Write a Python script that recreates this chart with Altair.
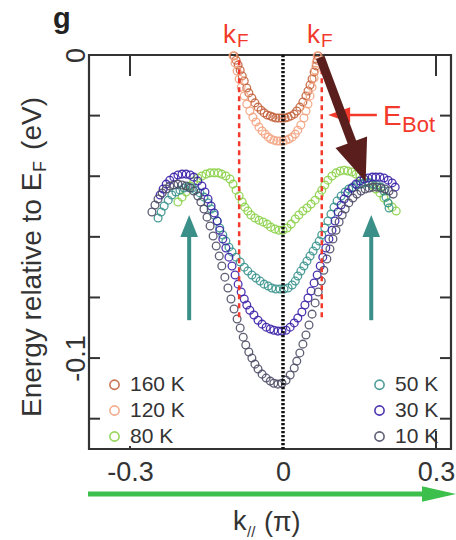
import altair as alt
import pandas as pd

FONT = "Liberation Sans"
DARK = "#333333"
RED = "#f2392b"
TEAL_ARROW = "#3a8f88"
BROWN = "#5a1f1c"
GREEN_ARROW = "#3dbf4b"

# ---------------- data (k in units of pi, E in eV) ----------------
K160 = [-0.096, -0.092, -0.088, -0.084, -0.080, -0.076, -0.071, -0.067, -0.061, -0.055,
        -0.049, -0.043, -0.037, -0.031, -0.025, -0.020, -0.014, -0.008, -0.002, 0.004,
        0.010, 0.016, 0.022, 0.027, 0.033, 0.039, 0.045, 0.049, 0.053, 0.057,
        0.061, 0.065, 0.067, 0.069]
E160 = [-0.0003, -0.0017, -0.0033, -0.0050, -0.0069, -0.0086, -0.0109, -0.0125, -0.0142, -0.0158,
        -0.0172, -0.0182, -0.0191, -0.0198, -0.0201, -0.0205, -0.0208, -0.0208, -0.0208, -0.0208,
        -0.0205, -0.0201, -0.0195, -0.0185, -0.0172, -0.0155, -0.0135, -0.0119, -0.0099, -0.0079,
        -0.0056, -0.0036, -0.0017, -0.0003]

K120 = [-0.098, -0.094, -0.090, -0.086, -0.082, -0.076, -0.071, -0.065, -0.059, -0.053,
        -0.047, -0.041, -0.035, -0.029, -0.024, -0.018, -0.012, -0.006, 0.000, 0.006,
        0.012, 0.018, 0.024, 0.029, 0.035, 0.041, 0.045, 0.049, 0.053, 0.057,
        0.061, 0.063, 0.065, 0.067]
E120 = [-0.0003, -0.0026, -0.0053, -0.0079, -0.0106, -0.0135, -0.0162, -0.0185, -0.0205, -0.0221,
        -0.0238, -0.0251, -0.0261, -0.0271, -0.0277, -0.0281, -0.0284, -0.0284, -0.0284, -0.0281,
        -0.0277, -0.0271, -0.0261, -0.0248, -0.0231, -0.0208, -0.0185, -0.0162, -0.0135, -0.0106,
        -0.0076, -0.0050, -0.0026, -0.0003]

K80 = [-0.206, -0.198, -0.190, -0.182, -0.175, -0.167, -0.159, -0.151, -0.143, -0.135,
       -0.127, -0.120, -0.112, -0.104, -0.098, -0.092, -0.086, -0.080, -0.075, -0.069,
       -0.063, -0.055, -0.047, -0.039, -0.031, -0.024, -0.016, -0.008, 0.000, 0.008,
       0.016, 0.024, 0.031, 0.039, 0.047, 0.055, 0.063, 0.071, 0.076, 0.082,
       0.088, 0.096, 0.104, 0.112, 0.120, 0.127, 0.135, 0.143, 0.151, 0.159,
       0.167, 0.175, 0.182, 0.190, 0.198, 0.206, 0.214, 0.222]
E80 = [-0.0485, -0.0469, -0.0452, -0.0432, -0.0416, -0.0406, -0.0399, -0.0393, -0.0389, -0.0389,
       -0.0389, -0.0393, -0.0399, -0.0409, -0.0426, -0.0446, -0.0465, -0.0485, -0.0502, -0.0515,
       -0.0528, -0.0538, -0.0545, -0.0551, -0.0558, -0.0568, -0.0574, -0.0578, -0.0578, -0.0571,
       -0.0558, -0.0541, -0.0528, -0.0515, -0.0505, -0.0492, -0.0479, -0.0462, -0.0446, -0.0429,
       -0.0413, -0.0399, -0.0389, -0.0383, -0.0380, -0.0383, -0.0386, -0.0393, -0.0399, -0.0409,
       -0.0419, -0.0429, -0.0442, -0.0455, -0.0472, -0.0488, -0.0502, -0.0515]

K50 = [-0.245, -0.239, -0.233, -0.225, -0.218, -0.210, -0.202, -0.194, -0.186, -0.178,
       -0.171, -0.163, -0.155, -0.147, -0.141, -0.135, -0.129, -0.124, -0.118, -0.112,
       -0.106, -0.100, -0.092, -0.084, -0.076, -0.069, -0.061, -0.053, -0.045, -0.037,
       -0.029, -0.022, -0.014, -0.006, 0.002, 0.010, 0.018, 0.024, 0.029, 0.035,
       0.041, 0.047, 0.053, 0.059, 0.065, 0.071, 0.076, 0.082, 0.088, 0.094,
       0.100, 0.106, 0.114, 0.122, 0.129, 0.137, 0.145, 0.153, 0.161, 0.169,
       0.176, 0.184, 0.192, 0.198, 0.202, 0.206, 0.208]
E50 = [-0.0538, -0.0518, -0.0498, -0.0479, -0.0462, -0.0452, -0.0446, -0.0439, -0.0436, -0.0439,
       -0.0446, -0.0455, -0.0469, -0.0488, -0.0508, -0.0528, -0.0548, -0.0571, -0.0594, -0.0614,
       -0.0634, -0.0650, -0.0667, -0.0683, -0.0700, -0.0713, -0.0726, -0.0736, -0.0746, -0.0756,
       -0.0762, -0.0769, -0.0772, -0.0772, -0.0772, -0.0769, -0.0759, -0.0746, -0.0729, -0.0713,
       -0.0696, -0.0680, -0.0663, -0.0647, -0.0630, -0.0614, -0.0594, -0.0571, -0.0548, -0.0525,
       -0.0502, -0.0482, -0.0465, -0.0452, -0.0442, -0.0436, -0.0429, -0.0426, -0.0422, -0.0422,
       -0.0426, -0.0429, -0.0436, -0.0449, -0.0469, -0.0488, -0.0505]

K30 = [-0.241, -0.235, -0.229, -0.222, -0.214, -0.206, -0.198, -0.190, -0.182, -0.175,
       -0.167, -0.159, -0.153, -0.147, -0.141, -0.135, -0.129, -0.124, -0.118, -0.112,
       -0.106, -0.100, -0.094, -0.088, -0.082, -0.076, -0.071, -0.065, -0.057, -0.049,
       -0.041, -0.033, -0.025, -0.018, -0.010, -0.002, 0.006, 0.014, 0.022, 0.029,
       0.037, 0.043, 0.049, 0.055, 0.061, 0.067, 0.073, 0.078, 0.084, 0.090,
       0.096, 0.102, 0.108, 0.114, 0.120, 0.127, 0.135, 0.143, 0.151, 0.159,
       0.167, 0.175, 0.182, 0.190, 0.198, 0.206, 0.214, 0.220]
E30 = [-0.0462, -0.0442, -0.0426, -0.0413, -0.0403, -0.0396, -0.0393, -0.0393, -0.0396, -0.0403,
       -0.0416, -0.0432, -0.0452, -0.0475, -0.0498, -0.0521, -0.0548, -0.0578, -0.0607, -0.0637,
       -0.0667, -0.0696, -0.0726, -0.0756, -0.0782, -0.0805, -0.0825, -0.0842, -0.0858, -0.0875,
       -0.0888, -0.0898, -0.0904, -0.0908, -0.0911, -0.0911, -0.0908, -0.0898, -0.0884, -0.0868,
       -0.0848, -0.0825, -0.0802, -0.0779, -0.0752, -0.0726, -0.0696, -0.0667, -0.0637, -0.0607,
       -0.0578, -0.0548, -0.0518, -0.0495, -0.0475, -0.0455, -0.0439, -0.0426, -0.0416, -0.0409,
       -0.0406, -0.0403, -0.0403, -0.0403, -0.0406, -0.0413, -0.0422, -0.0436]

K10 = [-0.257, -0.251, -0.245, -0.237, -0.229, -0.222, -0.214, -0.206, -0.198, -0.190,
       -0.182, -0.175, -0.167, -0.161, -0.155, -0.149, -0.143, -0.137, -0.131, -0.125,
       -0.120, -0.114, -0.108, -0.102, -0.096, -0.090, -0.084, -0.078, -0.073, -0.067,
       -0.061, -0.055, -0.049, -0.041, -0.033, -0.025, -0.018, -0.010, -0.002, 0.006,
       0.014, 0.022, 0.027, 0.033, 0.039, 0.045, 0.051, 0.057, 0.063, 0.069,
       0.075, 0.080, 0.086, 0.092, 0.098, 0.104, 0.110, 0.116, 0.122, 0.129,
       0.137, 0.145, 0.153, 0.161, 0.169, 0.176, 0.184, 0.192, 0.200, 0.208,
       0.216]
E10 = [-0.0518, -0.0495, -0.0475, -0.0455, -0.0442, -0.0432, -0.0429, -0.0426, -0.0429, -0.0432,
       -0.0439, -0.0449, -0.0465, -0.0485, -0.0508, -0.0535, -0.0564, -0.0597, -0.0630, -0.0663,
       -0.0696, -0.0733, -0.0769, -0.0805, -0.0838, -0.0871, -0.0901, -0.0931, -0.0957, -0.0980,
       -0.1000, -0.1020, -0.1036, -0.1053, -0.1066, -0.1076, -0.1083, -0.1086, -0.1083, -0.1073,
       -0.1056, -0.1033, -0.1010, -0.0983, -0.0954, -0.0924, -0.0891, -0.0855, -0.0818, -0.0782,
       -0.0746, -0.0710, -0.0673, -0.0640, -0.0607, -0.0578, -0.0551, -0.0528, -0.0508, -0.0488,
       -0.0472, -0.0459, -0.0449, -0.0442, -0.0439, -0.0436, -0.0436, -0.0439, -0.0442, -0.0449,
       -0.0459]

SERIES = ["160 K", "120 K", "80 K", "50 K", "30 K", "10 K"]
COLORS = {"160 K": "#c4643e", "120 K": "#f4a582", "80 K": "#8cd24a",
          "50 K": "#3a948e", "30 K": "#3a20a8", "10 K": "#4d4d66"}
# legend grid is filled column by column: (160,120,80) | (50,30,10)
LEGEND_ORDER = ["160 K", "120 K", "80 K", "50 K", "30 K", "10 K"]

KF = [-0.086, 0.076]          # k_F positions (dashed lines)
E_BOT = -0.0198               # band bottom marker
ARROW_K = [-0.184, 0.173]     # teal arrows
YTICKS = [-0.02, -0.04, -0.06, -0.08, -0.10, -0.12]
XTICKS = [-0.3, 0.3]

# ---------------- build table ----------------
rows = []
for name, ks, es in zip(SERIES, [K160, K120, K80, K50, K30, K10],
                        [E160, E120, E80, E50, E30, E10]):
    assert len(ks) == len(es), name
    for k, e in zip(ks, es):
        rows.append({"T": name, "k": k, "E": e})
df = pd.DataFrame(rows)

xs = alt.Scale(domain=[-0.3804, 0.3294], nice=False, zero=False)
ys = alt.Scale(domain=[-0.13, 0.0], nice=False, zero=False)
lab = "datum.value == 0 ? '0' : (datum.value < 0 ? '-' : '') + format(abs(datum.value), '.1f')"

XAX = alt.Axis(values=[-0.3, 0, 0.3], labelExpr=lab, title=None,
               ticks=False, tickSize=0, domain=False, grid=False,
               labelFontSize=27, labelFont=FONT, labelColor=DARK,
               labelBaseline="top", labelPadding=10)
YAX = alt.Axis(values=[0, -0.1], labelExpr=lab, title=None,
               ticks=False, tickSize=0, domain=False, grid=False,
               labelFontSize=27, labelFont=FONT, labelColor=DARK,
               labelAngle=270, labelAlign="center",
               labelBaseline="alphabetic", labelPadding=5)

XN = alt.X("k:Q", scale=xs, axis=XAX)
YN = alt.Y("E:Q", scale=ys, axis=YAX)

points = alt.Chart(df).mark_point(filled=False, size=60, strokeWidth=1.3, opacity=0.9).encode(
    x=XN,
    y=YN,
    color=alt.Color("T:N", scale=alt.Scale(domain=LEGEND_ORDER,
                                           range=[COLORS[s] for s in LEGEND_ORDER]),
                    legend=alt.Legend(title=None, orient="none", legendX=15, legendY=319,
                                      columns=2, columnPadding=184, rowPadding=4, padding=0,
                                      symbolType="circle", symbolSize=85, symbolStrokeWidth=1.6,
                                      labelFontSize=21, labelFont=FONT, labelColor=DARK,
                                      labelOffset=5)),
)

# frame ticks (inward)
left_ticks = alt.Chart(pd.DataFrame({"E": YTICKS})).mark_rule(color=DARK, strokeWidth=2).encode(
    y=YN, x=alt.value(0), x2=alt.value(11))
right_ticks = alt.Chart(pd.DataFrame({"E": YTICKS})).mark_rule(color=DARK, strokeWidth=2).encode(
    y=YN, x=alt.value(351), x2=alt.value(362))
top_ticks = alt.Chart(pd.DataFrame({"k": XTICKS})).mark_rule(color=DARK, strokeWidth=2).encode(
    x=XN, y=alt.value(0), y2=alt.value(21))
bot_tick_r = alt.Chart(pd.DataFrame({"k": [0.3]})).mark_rule(color=DARK, strokeWidth=2).encode(
    x=XN, y=alt.value(376), y2=alt.value(394))
bot_tick_l = alt.Chart(pd.DataFrame({"k": [-0.3]})).mark_rule(color=DARK, strokeWidth=2).encode(
    x=XN, y=alt.value(391), y2=alt.value(394))

# k = 0 dotted line
zero_line = alt.Chart(pd.DataFrame({"k": [0.0]})).mark_rule(
    color="#111111", strokeWidth=3.5, strokeDash=[2.2, 1.8]).encode(
    x=XN, y=alt.value(0), y2=alt.value(394))

# k_F dashed lines
kf_lines = alt.Chart(pd.DataFrame({"k": KF, "E": [-0.0017] * 2, "E2": [-0.0865] * 2})).mark_rule(
    color=RED, strokeWidth=2.5, strokeDash=[5, 4]).encode(x=XN, y=YN, y2="E2:Q")

# E_Bot arrow
ebot_shaft = alt.Chart(pd.DataFrame({"k": [0.184], "k2": [0.120], "E": [E_BOT]})).mark_rule(
    color=RED, strokeWidth=2.5).encode(x=XN, x2="k2:Q", y=YN)
ebot_head = alt.Chart(pd.DataFrame({"k": [0.110], "E": [E_BOT]})).mark_point(
    shape="M-1,0L1,-0.7L1,0.7Z", filled=True, size=484, color=RED, opacity=1, strokeWidth=0).encode(
    x=XN, y=YN)

# teal arrows
teal_shaft = alt.Chart(pd.DataFrame({"k": ARROW_K, "E": [-0.0875] * 2, "E2": [-0.0580] * 2})).mark_rule(
    color=TEAL_ARROW, strokeWidth=4).encode(x=XN, y=YN, y2="E2:Q")
teal_head = alt.Chart(pd.DataFrame({"k": ARROW_K, "E": [-0.0564] * 2})).mark_point(
    shape="M0,-1L0.8,1L-0.8,1Z", filled=True, size=484, color=TEAL_ARROW, opacity=1,
    strokeWidth=0).encode(x=XN, y=YN)

# brown arrow
brown_shaft = alt.Chart(pd.DataFrame({"k": [0.073], "E": [-0.0008], "k2": [0.141], "E2": [-0.0314]})).mark_rule(
    color=BROWN, strokeWidth=9).encode(x=XN, y=YN, x2="k2:Q", y2="E2:Q")
brown_head = alt.Chart(pd.DataFrame({"k": [0.148], "E": [-0.0353]})).mark_point(
    shape="M0,-1L0.8,1L-0.8,1Z", filled=True, size=1764, angle=160, color=BROWN, opacity=1,
    strokeWidth=0).encode(x=XN, y=YN)

# green arrow below the axis
green_shaft = alt.Chart(pd.DataFrame({"a": [0]})).mark_rule(color=GREEN_ARROW, strokeWidth=5).encode(
    x=alt.value(-1), x2=alt.value(336), y=alt.value(439))
green_head = alt.Chart(pd.DataFrame({"a": [0]})).mark_point(
    shape="M-1,-0.45L1,0L-1,0.45Z", filled=True, size=1156, color=GREEN_ARROW, opacity=1,
    strokeWidth=0).encode(x=alt.value(350), y=alt.value(439))


def txt(s, x, y, size, color=DARK, align="left", angle=0, weight="normal"):
    return alt.Chart(pd.DataFrame({"s": [s]})).mark_text(
        fontSize=size, font=FONT, color=color, align=align, baseline="alphabetic",
        angle=angle, fontWeight=weight).encode(text="s:N", x=alt.value(x), y=alt.value(y))


texts = [
    txt("g", -36, -27, 29, color="#222222", weight="bold"),
    txt("k", 134, -12, 26, color=RED), txt("F", 148, -8, 19, color=RED),
    txt("k", 218, -12, 26, color=RED), txt("F", 232, -8, 19, color=RED),
    txt("E", 294, 70, 28, color=RED), txt("Bot", 313, 77, 22, color=RED),
    txt("k", 144, 475, 27), txt("//", 158, 482, 15), txt("(π)", 175, 476, 27),
    txt("Energy relative to E", -48, 362, 28, angle=270),
    txt("F", -43, 117, 18, angle=270),
    txt("(eV)", -48, 42, 28, align="right", angle=270),
]

chart = alt.layer(
    points, zero_line, kf_lines, left_ticks, right_ticks, top_ticks, bot_tick_r, bot_tick_l,
    ebot_shaft, ebot_head, teal_shaft, teal_head, brown_shaft, brown_head,
    green_shaft, green_head, *texts
).properties(
    width=362, height=394,
    padding={"left": 89, "top": 55, "right": 5, "bottom": 91},
    autosize=alt.AutoSizeParams(type="none"),
    background="white",
).configure_view(stroke=DARK, strokeWidth=2.2)

chart.save("out.html", embed_options={"renderer": "svg", "actions": False})
